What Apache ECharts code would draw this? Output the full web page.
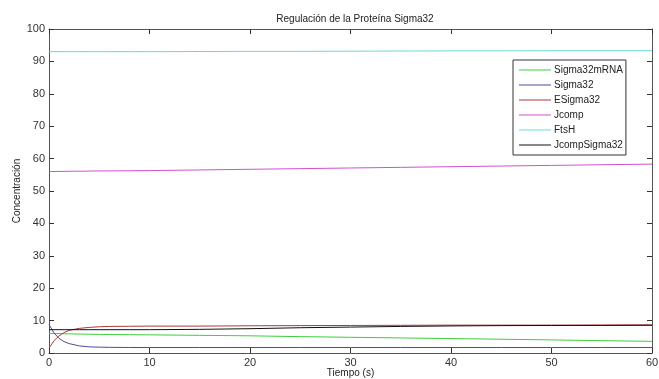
<!DOCTYPE html>
<html><head><meta charset="utf-8">
<script src="https://cdn.jsdelivr.net/npm/echarts@6/dist/echarts.min.js"></script>
<style>html,body{margin:0;padding:0;background:#fff}#c{width:659px;height:379px}</style>
</head><body><div id="c"></div>
<script>
const time = [0, 0.5, 1, 1.5, 2, 3, 4, 5, 6, 8, 10, 15, 20, 25, 30, 35, 40, 45, 50, 55, 60];
const sigma32mRNA = [6.0, 6.0, 6.0, 5.95, 5.9, 5.85, 5.8, 5.75, 5.7, 5.65, 5.6, 5.45, 5.3, 5.05, 4.85, 4.65, 4.45, 4.25, 4.05, 3.8, 3.6];
const sigma32 = [8.8, 6.2, 4.5, 3.5, 2.9, 2.2, 1.9, 1.8, 1.75, 1.7, 1.7, 1.7, 1.7, 1.7, 1.7, 1.7, 1.7, 1.7, 1.7, 1.7, 1.7];
const eSigma32 = [1.5, 3.8, 5.3, 6.3, 7.0, 7.6, 7.9, 8.1, 8.2, 8.25, 8.3, 8.3, 8.4, 8.45, 8.5, 8.55, 8.6, 8.6, 8.6, 8.65, 8.7];
const jcomp = [56.0, 56.0, 56.05, 56.05, 56.1, 56.1, 56.15, 56.2, 56.2, 56.25, 56.3, 56.5, 56.7, 56.9, 57.1, 57.3, 57.5, 57.7, 57.9, 58.1, 58.3];
const ftsH = [93.0, 93.0, 93.0, 93.0, 93.0, 93.0, 93.0, 93.0, 93.0, 93.0, 93.0, 93.05, 93.1, 93.1, 93.15, 93.2, 93.25, 93.25, 93.3, 93.3, 93.3];
const jcompSigma32 = [7.2, 7.2, 7.2, 7.2, 7.2, 7.2, 7.2, 7.2, 7.2, 7.2, 7.2, 7.3, 7.5, 7.8, 8.0, 8.2, 8.35, 8.45, 8.5, 8.5, 8.55];
const xTicks = [0, 10, 20, 30, 40, 50, 60];
const yTicks = [0, 10, 20, 30, 40, 50, 60, 70, 80, 90, 100];

const names = ['Sigma32mRNA','Sigma32','ESigma32','Jcomp','FtsH','JcompSigma32'];
const values = [sigma32mRNA, sigma32, eSigma32, jcomp, ftsH, jcompSigma32];
const colors = ['#3ccf3c','#4b4b9b','#a83a3a','#d050d0','#6ad8dc','#111111'];

const chart = echarts.init(document.getElementById('c'));
const axisCommon = {
  axisLine:{show:true,onZero:false,lineStyle:{color:'#555',width:1}},
  axisTick:{show:true,inside:true,length:5,lineStyle:{color:'#333'}},
  splitLine:{show:false}
};
chart.setOption({
  animation:false,
  title:{text:'Regulación de la Proteína Sigma32',left:350,top:9,textAlign:'center',
    textStyle:{fontFamily:'Liberation Sans, Arial',fontSize:10,fontWeight:'normal',color:'#222'}},
  grid:{left:49,right:7,top:29,bottom:26,containLabel:false,outerBoundsMode:'none'},
  legend:{orient:'vertical',left:513,top:60,itemGap:5,itemWidth:32,itemHeight:1,
    backgroundColor:'#fff',borderColor:'#333',borderWidth:1,padding:[5,3,5,6],
    icon:'rect',
    textStyle:{fontFamily:'Liberation Sans, Arial',fontSize:10,color:'#222',padding:[0,0,0,-2]},
    data:names},
  xAxis:[
    Object.assign({type:'value',min:xTicks[0],max:xTicks[xTicks.length-1],interval:10,position:'bottom',
      name:'Tiempo (s)',nameLocation:'middle',nameGap:15,nameMoveOverlap:false,
      nameTextStyle:{fontFamily:'Liberation Sans, Arial',fontSize:10,color:'#222'},
      axisLabel:{fontFamily:'Liberation Sans, Arial',fontSize:11,color:'#333',margin:4}},axisCommon),
    Object.assign({type:'value',min:xTicks[0],max:xTicks[xTicks.length-1],interval:10,position:'top',axisLabel:{show:false}},axisCommon)
  ],
  yAxis:[
    Object.assign({type:'value',min:yTicks[0],max:yTicks[yTicks.length-1],interval:10,position:'left',
      name:'Concentración',nameLocation:'middle',nameGap:27,nameMoveOverlap:false,
      nameTextStyle:{fontFamily:'Liberation Sans, Arial',fontSize:10,color:'#222'},
      axisLabel:{fontFamily:'Liberation Sans, Arial',fontSize:11,color:'#333',margin:4}},axisCommon),
    Object.assign({type:'value',min:yTicks[0],max:yTicks[yTicks.length-1],interval:10,position:'right',axisLabel:{show:false}},axisCommon)
  ],
  series: names.map((n,i)=>({
    name:n,type:'line',showSymbol:false,symbol:'none',
    data:time.map((t,j)=>[t,values[i][j]]),
    lineStyle:{width:1,color:colors[i]},itemStyle:{color:colors[i]}
  }))
});
</script></body></html>
